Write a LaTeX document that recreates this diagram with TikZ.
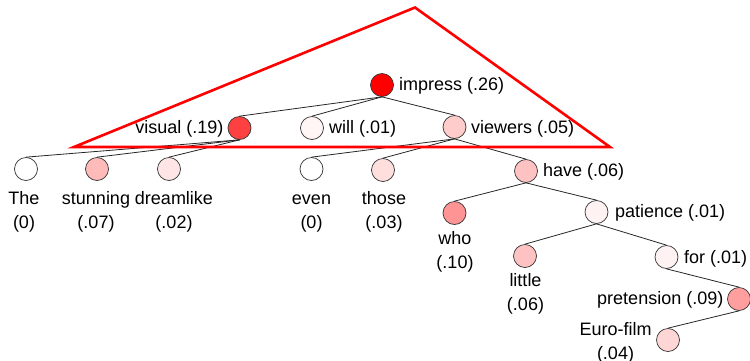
\documentclass[tikz,border=0pt]{standalone}
\usepackage{fontspec}
\setmainfont{Liberation Sans}
\begin{document}
\begin{tikzpicture}[x=1pt,y=-1pt,
  tn/.style={circle, draw=black!80, line width=0.7pt, minimum size=23pt, inner sep=0pt},
  edg/.style={draw=black!85, line width=0.8pt},
  lab/.style={font=\fontsize{18}{24}\selectfont, inner sep=0pt, anchor=base, align=center},
  labr/.style={font=\fontsize{18}{24}\selectfont, inner sep=0pt, anchor=base west},
  labl/.style={font=\fontsize{18}{24}\selectfont, inner sep=0pt, anchor=base east},
  tri/.style={draw=red, line width=2.6pt, line join=miter}]
\useasboundingbox (0,0) rectangle (750,360);
% circles
\node[tn, fill=red] (impress) at (382,85) {};
\node[tn, fill=red!75] (visual) at (239.5,128) {};
\node[tn, fill=red!4] (will) at (312,128) {};
\node[tn, fill=red!20] (viewers) at (454.5,127) {};
\node[tn, fill=white] (the) at (26,169) {};
\node[tn, fill=red!27] (stunning) at (97,169) {};
\node[tn, fill=red!10] (dreamlike) at (169,169) {};
\node[tn, fill=white] (even) at (311.5,169) {};
\node[tn, fill=red!13] (those) at (383,170) {};
\node[tn, fill=red!24] (have) at (526,171) {};
\node[tn, fill=red!42] (who) at (454.5,213) {};
\node[tn, fill=red!5] (patience) at (596.5,212) {};
\node[tn, fill=red!24] (little) at (525,256) {};
\node[tn, fill=red!5] (for) at (666.5,257) {};
\node[tn, fill=red!38] (pretension) at (739,299) {};
\node[tn, fill=red!16] (euro) at (668,340) {};
% labels
\node[labr] (impressL) at (399,90.5) {impress (.26)};
\node[labl] (visualL) at (223.5,133) {visual (.19)};
\node[labr] (willL) at (329,133) {will (.01)};
\node[labr] (viewersL) at (471,133) {viewers (.05)};
\node[labr] (haveL) at (543,176.5) {have (.06)};
\node[labr] (patienceL) at (615,217) {patience (.01)};
\node[labr] (forL) at (684,263) {for (.01)};
\node[labl] (pretensionL) at (723.5,304.5) {pretension (.09)};
\node[lab] (theL) at (24,228.5) {The\\(0)};
\node[lab] (stunningL) at (96,228.5) {stunning\\(.07)};
\node[lab] (dreamlikeL) at (174,228.5) {dreamlike\\(.02)};
\node[lab] (evenL) at (311.5,228.5) {even\\(0)};
\node[lab] (thoseL) at (384,228.5) {those\\(.03)};
\node[lab] (whoL) at (455,268) {who\\(.10)};
\node[lab] (littleL) at (525.5,310) {little\\(.06)};
\node[lab] (euroL) at (615.5,359) {Euro-film\\(.04)};
% edges
\draw[edg] (impress.south) -- (visual.north);
\draw[edg] (impress.south) -- (will.north);
\draw[edg] (impress.south) -- (viewers.north);
\draw[edg] (visual.south) -- (the.north);
\draw[edg] (visual.south) -- (stunning.north);
\draw[edg] (visual.south) -- (dreamlike.north);
\draw[edg] (viewers.south) -- (even.north);
\draw[edg] (viewers.south) -- (those.north);
\draw[edg] (viewers.south) -- (have.north);
\draw[edg] (have.south) -- (who.north);
\draw[edg] (have.south) -- (patience.north);
\draw[edg] (patience.south) -- (little.north);
\draw[edg] (patience.south) -- (for.north);
\draw[edg] (for.south) -- (pretension.north);
\draw[edg] (pretension.south) -- (euro.north);
% red triangle
\coordinate (tA) at (74,147);
\coordinate (tB) at (415,7.5);
\coordinate (tC) at (610,147);
\draw[tri] (tA) -- (tB) -- (tC) -- cycle;
\end{tikzpicture}
\end{document}
